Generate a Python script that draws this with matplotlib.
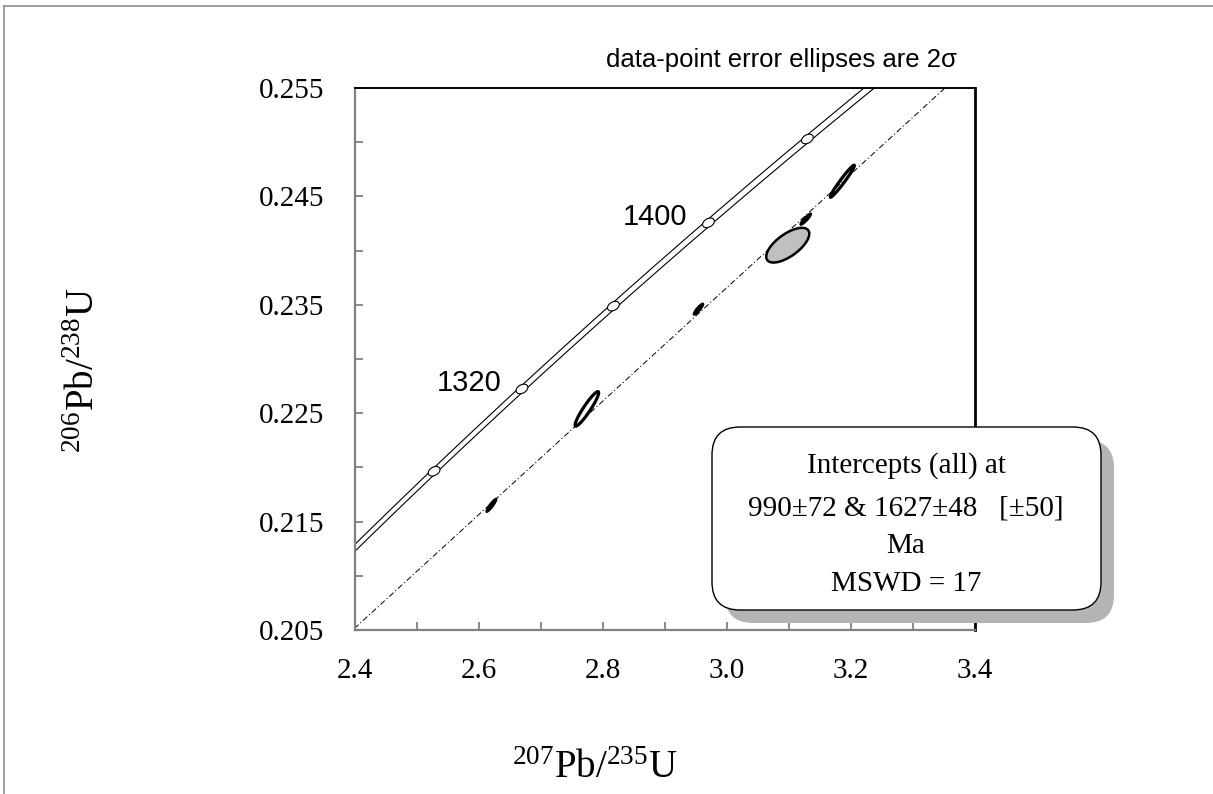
import numpy as np
import matplotlib
matplotlib.use("Agg")
import matplotlib.pyplot as plt
from matplotlib.patches import FancyBboxPatch, Polygon
from matplotlib.lines import Line2D
from matplotlib.ticker import MultipleLocator
from matplotlib import font_manager

# ---------------- data ----------------
x_center = [2.620, 2.774, 2.954, 3.098, 3.127, 3.186]      # 207Pb/235U
y_center = [0.2165, 0.2254, 0.2346, 0.2405, 0.2429, 0.2464]  # 206Pb/238U
x_err2s = [0.0086, 0.0190, 0.0082, 0.0347, 0.0091, 0.0194]
y_err2s = [0.00064, 0.00159, 0.00054, 0.00160, 0.00055, 0.00148]
rho = [0.89, 0.935, 0.86, 0.66, 0.88, 0.975]

marker_ages = [1280, 1320, 1360, 1400, 1440]   # Ma
labeled_ages = [1320, 1400]
intercept_ages = [990, 1627]                   # Ma
x_ticklabels = ["2.4", "2.6", "2.8", "3.0", "3.2", "3.4"]
y_ticklabels = ["0.205", "0.215", "0.225", "0.235", "0.245", "0.255"]
box_lines = ["Intercepts (all) at", "990\u00b172 & 1627\u00b148   [\u00b150]", "Ma", "MSWD = 17"]
title_text = "data-point error ellipses are 2\u03c3"

# decay constants (per Ma)
L238 = 1.55125e-4
L235 = 9.8485e-4
L235_REL_ERR2S = 0.00136

# ---------------- styles ----------------
face_colors = ["black", "none", "black", "#c0c0c0", "black", "none"]
edge_widths = [1.0, 2.3, 1.0, 1.8, 1.0, 2.3]

W, H = 1213, 794
DPI = 100
plt.rcParams["font.family"] = ["Liberation Serif", "DejaVu Serif"]
plt.rcParams["mathtext.fontset"] = "custom"
plt.rcParams["mathtext.rm"] = "Liberation Serif"
plt.rcParams["mathtext.it"] = "Liberation Serif:italic"
plt.rcParams["mathtext.bf"] = "Liberation Serif:bold"

fig = plt.figure(figsize=(W / DPI, H / DPI), dpi=DPI)
fig.patch.set_facecolor("white")

L, R, T, B = 355, 975, 88, 630
ax = fig.add_axes([L / W, (H - B) / H, (R - L) / W, (B - T) / H])
ax.set_xlim(2.4, 3.4)
ax.set_ylim(0.205, 0.255)


def ratios(t, l235=L235):
    t = np.asarray(t, dtype=float)
    return np.exp(l235 * t) - 1.0, np.exp(L238 * t) - 1.0


def ellipse_xy(cx, cy, sx, sy, r, n=200):
    th = np.linspace(0, 2 * np.pi, n)
    xs = cx + sx * np.cos(th)
    ys = cy + sy * (r * np.cos(th) + np.sqrt(1 - r * r) * np.sin(th))
    return np.column_stack([xs, ys])


# concordia band (decay-constant uncertainty)
ages = np.linspace(1150, 1520, 400)
for sgn in (-1, 1):
    cx, cy = ratios(ages, L235 * (1 + sgn * L235_REL_ERR2S))
    ax.plot(cx, cy, color="black", lw=0.8, zorder=2)

# discordia through intercepts
ix, iy = ratios(intercept_ages)
xx = np.array([2.3, 3.5])
slope = (iy[1] - iy[0]) / (ix[1] - ix[0])
yy = iy[0] + slope * (xx - ix[0])
ax.plot(xx, yy, color="black", lw=0.7, linestyle=(0, (6, 2.5, 1.2, 2.5)), zorder=1)

# data ellipses
for i in range(len(x_center)):
    pts = ellipse_xy(x_center[i], y_center[i], x_err2s[i], y_err2s[i], rho[i])
    ax.add_patch(Polygon(pts, closed=True, facecolor=face_colors[i],
                         edgecolor="black", lw=edge_widths[i], zorder=3))

# concordia age markers
mx, my = ratios(marker_ages)
for a, x0, y0 in zip(marker_ages, mx, my):
    pts = ellipse_xy(x0, y0, 0.0095, 0.00044, 0.35)
    ax.add_patch(Polygon(pts, closed=True, facecolor="white", edgecolor="black",
                         lw=0.8, zorder=4))
    if a in labeled_ages:
        ax.annotate(str(a), (x0, y0), xytext=(-15, 4), textcoords="offset points",
                    ha="right", va="center", fontsize=21,
                    family=["Liberation Sans", "DejaVu Sans"], zorder=5)

# axes styling
ax.set_xticks(np.arange(2.4, 3.41, 0.2))
ax.set_xticklabels(x_ticklabels)
ax.xaxis.set_minor_locator(MultipleLocator(0.1))
ax.set_yticks(np.arange(0.205, 0.2551, 0.01))
ax.set_yticklabels(y_ticklabels)
ax.yaxis.set_minor_locator(MultipleLocator(0.005))
ax.tick_params(which="both", direction="in", length=6, width=1.3, color="#808080",
               top=False, right=False, labelsize=21)
ax.tick_params(axis="y", which="both", pad=22)
ax.tick_params(axis="x", which="both", pad=20)
for s in ("left", "bottom"):
    ax.spines[s].set_color("#808080")
    ax.spines[s].set_linewidth(1.6)
ax.spines["top"].set_color("black")
ax.spines["top"].set_linewidth(1.4)
ax.spines["right"].set_color("black")
ax.spines["right"].set_linewidth(2.0)

# axis labels
fig.text(595 / W, 1 - 768 / H, r"$^{207}$Pb/$^{235}$U", ha="center", va="center",
         fontsize=28)
fig.text(85 / W, 1 - 370 / H, r"$^{206}$Pb/$^{238}$U", ha="center", va="center",
         fontsize=28, rotation=90)

# title text
names = {f.name for f in font_manager.fontManager.ttflist}
if "Liberation Sans Narrow" in names:
    fig.text(782 / W, 1 - 60 / H, title_text, ha="center", va="center",
             fontsize=22, family=["Liberation Sans Narrow", "DejaVu Sans"])
else:
    fig.text(782 / W, 1 - 60 / H, title_text, ha="center", va="center",
             fontsize=18.5, family=["Liberation Sans", "DejaVu Sans"])

# result box with shadow (pixel coordinates)
bx0, bx1, by0, by1 = 712, 1101, 427, 610
off = 13
shadow = FancyBboxPatch((bx0 + off, H - by1 - off), bx1 - bx0, by1 - by0,
                        boxstyle="round,pad=0,rounding_size=28", transform=None,
                        facecolor="#b4b4b4", edgecolor="none", zorder=10)
box = FancyBboxPatch((bx0, H - by1), bx1 - bx0, by1 - by0,
                     boxstyle="round,pad=0,rounding_size=28", transform=None,
                     facecolor="white", edgecolor="black", lw=1.0, zorder=11)
fig.add_artist(shadow)
fig.add_artist(box)
for ln, yp in zip(box_lines, [466, 509, 546, 584]):
    fig.text(906 / W, 1 - yp / H, ln, ha="center", va="center", fontsize=21,
             zorder=12)

# outer frame
fig.add_artist(Line2D([4 / W, 4 / W], [0, 1 - 6 / H], transform=fig.transFigure,
                      color="#8c8c8c", lw=1.2))
fig.add_artist(Line2D([4 / W, 1], [1 - 6 / H, 1 - 6 / H], transform=fig.transFigure,
                      color="#8c8c8c", lw=1.2))

fig.savefig("out.png", dpi=DPI, facecolor="white")
